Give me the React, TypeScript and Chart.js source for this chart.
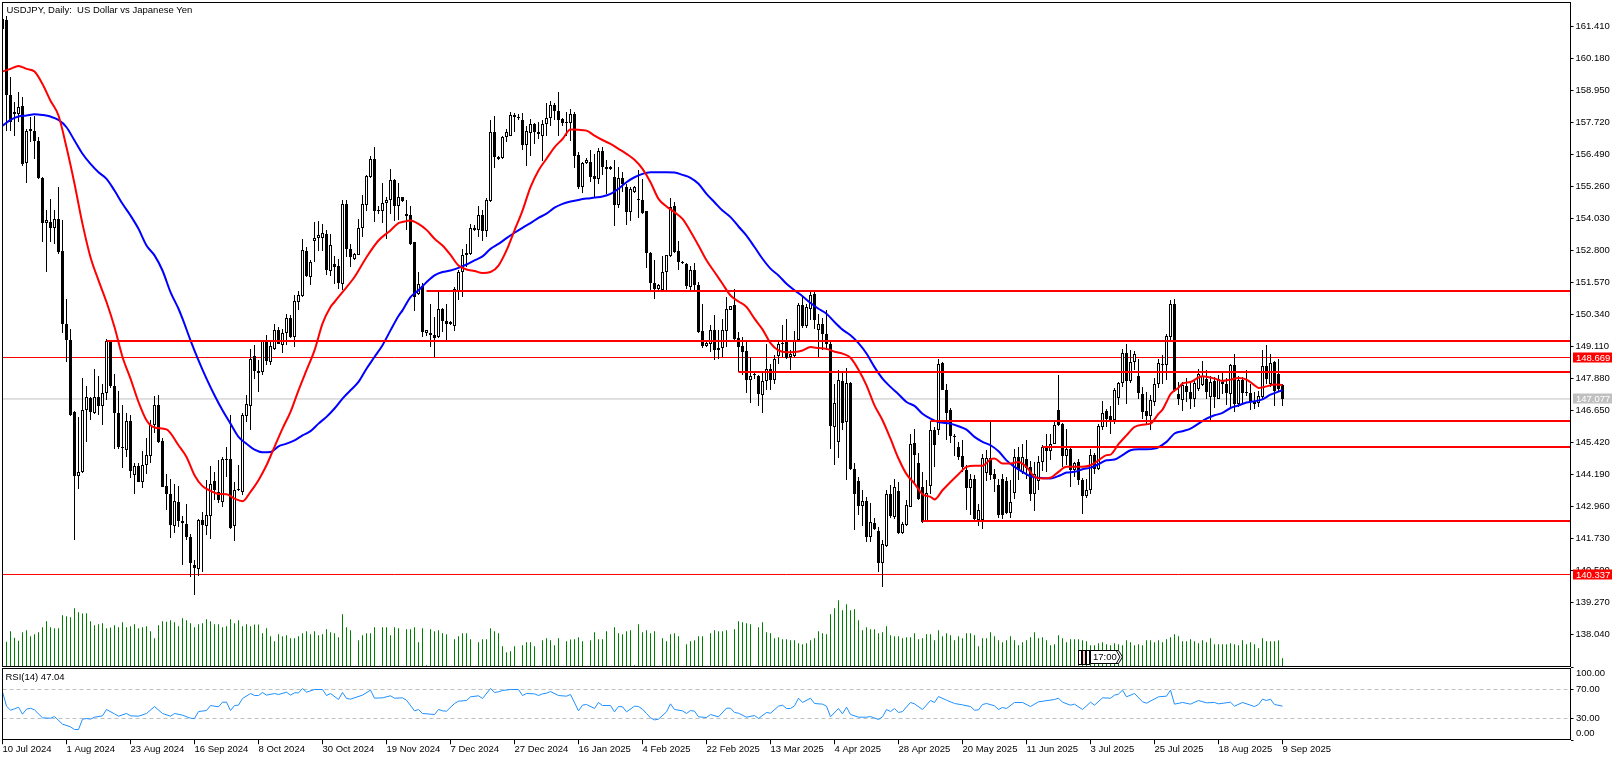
import React, { useEffect, useRef } from "react";
import { Chart, registerables } from "chart.js";

Chart.register(...registerables);

const opens = [
161.67,161.64,158.75,158.00,158.00,158.34,156.13,157.36,157.38,157.00,
155.57,153.83,153.89,153.65,153.99,152.75,149.94,149.33,146.58,144.12,
144.28,146.67,147.13,146.54,147.15,146.81,147.32,149.29,147.56,146.55,
145.22,145.13,146.25,144.16,144.52,143.89,144.56,144.89,146.09,146.86,
145.45,143.73,143.42,142.20,143.11,142.39,142.27,141.76,140.72,140.56,
142.42,142.20,142.59,143.92,143.51,143.13,144.79,144.76,142.20,143.57,
143.51,146.43,146.81,148.71,148.09,148.11,149.26,148.50,149.00,149.71,
149.16,149.62,150.20,149.46,150.80,151.02,152.75,151.76,153.16,153.27,
153.27,153.42,151.99,152.24,152.17,151.50,154.57,152.84,152.47,152.61,
153.65,154.54,155.59,156.30,154.31,154.29,154.61,154.70,155.50,154.48,
154.83,154.11,154.15,153.09,151.09,151.41,149.61,149.62,149.54,149.46,
150.54,150.07,149.94,149.88,151.22,151.95,152.61,152.64,153.58,153.55,
154.15,153.52,154.66,157.34,156.38,156.32,157.13,157.19,157.98,157.88,
157.77,156.81,157.28,157.64,157.34,157.17,157.64,157.86,158.37,158.15,
157.83,157.73,157.66,158.00,156.46,155.21,156.14,156.19,155.62,155.52,
156.58,156.00,155.89,155.59,154.54,155.55,155.21,154.25,155.04,154.76,
154.72,154.28,152.69,151.54,151.30,151.25,151.95,152.56,154.47,152.74,
152.31,152.24,151.37,152.04,151.47,149.67,149.12,149.17,149.74,148.97,
149.05,149.68,150.50,150.67,149.43,149.10,148.90,147.79,147.99,147.95,
147.22,147.77,148.24,147.79,148.71,149.17,149.26,148.69,148.71,149.33,
150.67,149.86,150.54,151.09,149.71,149.94,149.58,149.20,146.00,145.43,
147.77,146.20,147.70,144.40,143.92,142.97,143.15,141.78,142.33,142.00,
140.79,141.43,143.44,142.55,143.55,141.94,142.23,142.93,145.39,144.63,
143.70,142.40,143.73,145.90,145.87,148.47,147.43,146.64,145.66,145.24,
144.88,144.34,143.64,144.02,142.42,142.42,144.25,144.81,144.19,143.79,
144.02,143.92,142.70,143.47,144.83,144.28,144.79,144.47,143.42,143.93,
144.66,145.24,145.07,145.36,146.67,146.10,144.88,145.15,144.34,144.66,
143.98,143.34,143.57,144.92,144.38,146.00,146.60,146.42,146.26,147.13,
147.70,148.85,147.75,148.50,147.95,147.28,146.60,146.42,146.96,147.66,
148.43,148.39,149.46,150.73,147.26,147.05,147.56,147.35,147.09,147.47,
147.60,147.86,147.15,147.75,147.09,147.73,147.66,147.28,148.37,146.90,
147.79,147.30,147.32,146.99,146.92,147.15,148.36,147.67,148.50,148.05,
147.60];

const closes = [
161.28,158.73,157.70,158.09,158.30,156.10,157.38,157.45,156.97,155.55,
153.83,153.93,153.65,153.99,152.72,149.97,149.35,146.45,144.12,144.29,
146.67,147.15,146.58,147.15,146.81,147.32,149.29,147.56,146.54,145.22,
145.20,146.25,144.32,144.52,143.89,144.56,144.94,146.09,146.86,145.43,
143.70,143.42,142.23,143.14,142.40,142.33,141.78,140.79,140.58,142.42,
142.23,142.61,143.83,143.57,143.19,144.76,144.74,142.12,143.60,143.60,
146.45,146.90,148.63,148.15,148.16,149.33,148.52,149.10,149.74,149.20,
149.62,150.20,149.46,150.82,151.08,152.78,151.78,152.33,153.27,153.36,
153.44,152.01,152.97,152.14,151.53,154.57,152.84,152.52,152.63,153.65,
154.57,155.62,156.30,154.29,154.29,154.61,154.70,155.49,154.48,154.83,
154.67,154.16,153.04,150.99,151.48,149.65,149.71,149.52,149.43,150.54,
150.07,149.97,150.03,151.31,151.95,152.61,152.67,153.65,153.65,154.15,
153.52,154.70,157.34,156.36,156.30,157.15,157.34,157.98,157.89,157.92,
156.81,157.38,157.64,157.32,157.25,157.64,157.87,158.37,158.15,157.80,
157.66,157.66,158.00,156.42,155.21,156.14,156.26,155.59,155.52,156.58,
155.98,155.90,155.99,154.54,155.55,155.34,154.25,155.12,155.20,154.73,
154.21,152.68,151.53,151.30,151.44,151.97,152.59,154.44,152.72,152.33,
152.29,151.40,152.04,151.47,149.65,149.10,149.24,149.74,148.97,149.05,
149.71,150.52,150.63,149.39,149.07,148.88,147.79,147.96,148.00,147.28,
147.77,148.24,147.79,148.62,149.20,149.22,148.66,148.79,149.33,150.70,
149.86,150.60,151.05,150.12,149.97,149.58,149.20,146.04,146.94,147.82,
146.17,147.70,144.38,143.44,142.97,143.15,141.78,142.36,142.10,140.76,
141.49,143.44,142.58,143.68,141.94,142.26,143.00,145.34,144.92,143.25,
142.36,143.47,145.90,145.30,148.43,147.43,146.55,145.66,145.63,144.85,
144.47,143.66,143.99,142.45,142.83,144.81,144.81,144.15,144.00,142.61,
142.64,142.68,143.13,144.85,144.34,144.83,144.44,143.44,144.21,144.66,
145.24,145.07,145.36,146.07,146.07,144.88,145.17,144.34,144.62,143.98,
143.34,143.57,144.92,144.40,146.03,146.55,146.30,146.26,147.41,147.70,
148.85,147.75,148.50,148.82,147.31,146.58,146.42,147.03,147.66,148.47,
148.37,149.48,150.73,147.41,147.06,147.60,147.33,147.06,147.70,148.05,
147.95,147.35,147.73,147.15,147.86,147.66,147.31,148.37,146.90,147.79,
147.31,147.32,146.99,146.90,147.18,148.36,147.86,148.47,147.38,147.45,
147.077];

const highs = [
161.79,161.79,159.45,158.47,158.88,158.66,157.45,157.89,157.96,157.13,
155.59,154.34,154.76,154.34,155.23,153.93,150.90,149.77,146.60,146.39,
147.90,147.56,147.15,148.24,147.95,147.67,149.39,149.33,148.05,147.37,
146.86,146.55,146.48,144.63,144.60,145.07,145.56,146.26,147.18,147.22,
145.56,144.21,144.02,143.83,143.73,142.58,143.06,141.89,140.91,142.46,
142.73,143.96,144.49,144.28,144.72,144.85,145.24,146.48,143.89,144.53,
146.54,147.24,149.01,149.14,148.56,149.35,149.55,149.26,149.97,149.84,
149.78,150.33,150.29,151.05,151.22,153.20,152.91,152.40,153.89,153.91,
153.78,153.57,153.42,152.55,152.46,154.70,154.72,153.03,152.68,153.97,
154.91,155.69,156.42,156.77,154.50,155.36,154.83,155.89,155.53,155.36,
154.85,154.72,154.50,153.11,151.97,151.54,149.74,150.73,150.22,151.18,
150.58,150.71,150.07,151.37,152.04,152.84,153.03,153.80,153.74,154.50,
154.34,154.80,157.79,157.94,156.42,157.19,157.45,158.09,158.05,158.02,
158.06,157.54,157.83,157.66,157.70,157.79,158.44,158.51,158.44,158.88,
157.86,158.09,158.21,158.09,156.55,156.19,156.33,156.62,156.49,156.72,
156.74,156.26,156.04,156.26,155.98,155.78,155.34,155.21,155.26,155.87,
155.53,154.30,152.71,152.42,151.50,152.55,152.61,154.80,154.63,153.14,
152.37,152.29,152.20,152.29,151.56,150.73,149.26,149.90,150.31,149.71,
150.16,150.99,150.66,151.31,149.65,149.46,149.33,148.69,148.11,147.98,
148.11,149.20,148.41,148.75,149.35,149.93,150.16,148.94,149.67,150.77,
150.99,150.73,151.18,151.18,150.35,150.18,150.50,149.26,147.66,148.18,
148.11,148.28,147.73,144.62,144.08,143.60,143.32,143.10,142.49,142.17,
141.66,143.57,143.77,144.02,143.90,142.36,143.19,145.75,145.94,145.00,
144.28,143.96,146.25,146.00,148.62,148.50,147.67,146.74,145.75,145.43,
145.49,144.53,144.21,144.15,143.06,144.98,145.10,146.28,144.40,144.02,
144.19,144.08,143.96,145.17,145.24,145.36,145.49,144.70,144.66,144.88,
145.30,145.75,145.75,146.23,148.00,146.16,145.94,145.24,144.66,144.79,
144.06,144.02,145.17,145.00,146.13,147.00,146.71,146.80,147.51,147.73,
149.00,149.20,148.94,148.91,148.62,147.54,147.35,147.22,147.90,148.62,
148.75,149.56,150.86,150.93,147.73,147.73,147.90,147.73,147.77,148.24,
148.54,148.18,147.95,147.92,147.98,148.09,147.88,148.43,148.79,147.95,
147.92,148.20,147.67,147.35,147.38,148.94,149.14,148.79,148.54,148.60,
147.67];

const lows = [
161.22,157.38,157.36,157.19,157.70,156.04,155.36,156.93,156.30,155.53,
153.10,151.95,153.10,153.03,152.65,149.61,148.50,146.41,141.66,143.61,
144.24,145.43,146.26,146.49,146.45,146.07,147.05,147.51,145.17,145.17,
144.43,144.85,144.05,143.42,143.89,143.66,144.21,144.63,145.77,145.39,
143.68,142.81,141.75,141.94,142.17,140.70,141.68,140.25,139.55,140.28,
140.44,141.85,141.71,143.19,143.09,142.91,144.09,142.07,141.63,143.55,
143.38,146.20,145.88,147.86,147.35,147.99,148.37,148.39,148.97,149.17,
148.85,149.14,149.43,149.07,150.48,150.99,151.76,151.44,152.33,152.75,
152.75,151.82,151.80,151.50,151.31,151.25,152.52,152.14,152.42,152.59,
153.29,154.31,155.57,153.87,154.16,153.84,153.23,154.19,153.90,153.93,
154.65,153.55,153.00,150.45,151.05,149.46,149.49,149.07,148.69,149.42,
149.65,149.33,149.90,149.68,150.86,150.99,152.14,152.61,153.52,153.29,
153.14,153.29,154.63,155.94,156.27,156.30,156.93,157.17,157.34,157.77,
156.65,156.01,156.42,156.85,157.06,156.23,157.19,157.57,157.77,157.19,
157.57,157.17,157.00,155.94,155.12,154.98,156.10,155.40,154.83,155.34,
155.68,154.93,155.85,153.70,154.42,155.02,153.77,153.90,155.00,154.02,
154.19,152.10,151.22,150.90,151.25,151.22,151.25,152.52,152.68,152.01,
152.24,151.31,151.25,151.25,149.62,149.05,149.07,148.88,148.59,148.62,
148.69,149.07,150.48,149.35,148.11,147.98,147.31,146.92,147.86,146.79,
146.54,147.43,147.41,147.64,148.43,148.69,148.60,148.18,148.69,149.30,
149.81,149.81,150.09,149.78,148.69,148.94,148.94,145.17,144.53,144.81,
145.87,143.98,144.34,142.06,142.61,142.19,141.59,141.59,142.06,140.44,
139.87,141.40,142.49,142.46,141.91,141.91,142.19,142.91,143.83,143.19,
142.33,142.36,143.42,144.47,145.68,147.41,145.49,145.39,144.88,144.75,
144.28,142.81,142.64,142.40,142.19,142.10,143.93,143.96,143.51,142.49,
142.45,142.65,142.49,143.25,143.96,144.19,144.02,143.16,142.78,143.57,
144.30,144.28,144.72,145.34,146.04,144.47,144.53,143.70,144.09,143.77,
142.65,143.29,143.44,144.19,144.34,145.87,146.00,145.72,146.13,146.86,
147.54,146.90,147.70,148.18,147.09,146.30,146.10,145.87,146.81,147.51,
147.67,147.79,149.30,147.35,146.83,146.62,146.96,146.68,146.75,147.38,
147.58,147.09,146.23,146.73,147.06,147.28,146.86,146.77,146.58,146.75,
146.92,147.18,146.64,146.70,146.77,147.09,147.67,147.54,146.81,147.38,
146.81];

const volumes = [
70,74,106,86,77,103,109,91,97,103,
118,136,118,115,115,154,151,148,175,163,
159,160,136,124,127,130,115,117,124,118,
133,118,121,127,115,118,121,106,85,124,
136,134,139,133,121,145,139,130,118,127,
130,142,136,127,127,118,121,142,130,139,
121,127,121,126,126,100,115,91,76,97,
91,94,85,85,91,100,106,97,106,94,
97,112,103,100,88,157,118,109,0,79,
94,100,100,118,0,118,118,94,118,115,
0,112,112,118,73,115,4,112,106,109,
100,97,0,82,91,100,100,82,0,73,
82,82,115,106,100,61,43,46,61,0,
64,73,73,61,0,79,85,79,64,85,
0,76,81,82,88,76,0,79,103,82,
82,106,0,118,100,97,106,109,4,127,
103,109,100,106,0,85,76,97,100,91,
0,67,76,79,91,91,0,100,109,106,
106,109,0,112,136,133,130,127,0,118,
133,103,100,85,88,82,82,79,79,70,
67,70,79,85,106,100,97,157,175,199,
169,187,169,172,139,109,118,112,112,100,
103,121,94,91,91,85,88,88,100,82,
85,97,97,79,109,91,100,94,79,91,
85,100,100,94,61,85,85,103,91,79,
73,79,91,79,64,73,79,88,103,85,
88,79,64,67,94,85,73,82,82,82,
79,76,64,64,70,73,67,64,70,67,
64,79,73,64,67,64,79,79,73,79,
73,82,88,97,91,76,76,82,76,70,
79,73,85,67,67,67,67,70,67,64,
79,67,73,67,55,85,76,76,76,79,
25];

const redBars = [0,2,4,6,8,10,12,14,16,18,20,22,24,26,28,30,32,34,36,38,41,44,46,48,50,52,54,56,58,60,62,64,66,68,70,72,74,76,78,80,82,83,85,88,91,94,97,99,100,102,104,106,108,110,112,114,116,118,120,122,124,126,128,130,132,134,136,138,140,142,144,146,148,150,152,154,156,158,160,162,164,166,168,170,172,174,176,178,180,182,184,186,188,190,192,194,196,198,200,202,204,206,208,210,212,214,216,218,220,222,224,226,228,230,232,233,235,237,239,241,243,245,247,248,250,252,254,256,258,260,262,264,266,268,270,272,274,276,277,279,281,283,285,287,289,290,291,292,294,295,297,299,300,303,305,307,309,311,313,314,316,318,320];
const redValues = [159.65,159.75,159.86,159.75,159.65,159.17,158.53,157.96,156.74,155.34,153.80,152.52,151.63,150.80,149.84,148.69,147.86,146.96,146.26,145.98,145.91,145.30,144.85,144.15,143.73,143.55,143.43,143.42,143.25,143.15,143.51,143.96,144.53,145.24,145.94,146.58,147.41,148.18,148.94,149.97,150.61,150.80,151.18,151.76,152.52,153.16,153.55,153.83,153.87,153.93,153.80,153.57,153.23,152.97,152.61,152.20,152.05,151.99,151.91,151.95,152.20,152.78,153.55,154.31,155.21,155.85,156.30,156.74,157.06,157.42,157.41,157.38,157.19,157.02,156.87,156.68,156.49,156.26,155.91,155.40,154.76,154.47,154.25,153.99,153.51,152.97,152.40,151.95,151.50,151.05,150.82,150.61,150.16,149.75,149.22,148.94,148.87,148.88,148.94,149.07,149.03,149.00,148.89,148.82,148.66,148.20,147.60,146.83,146.26,145.55,144.79,144.19,143.83,143.42,143.32,143.22,143.57,143.89,144.19,144.47,144.51,144.51,144.76,144.79,144.60,144.60,144.66,144.47,144.09,144.02,144.05,144.28,144.47,144.47,144.47,144.53,144.72,144.92,144.94,145.34,145.68,146.00,146.09,146.13,146.51,146.67,146.96,147.26,147.51,147.67,147.73,147.90,147.95,147.86,147.77,147.82,147.88,147.82,147.60,147.50,147.56,147.63,147.61];

const blueBars = [0,2,4,6,8,10,12,14,16,18,20,22,24,26,28,30,32,34,36,38,40,42,44,45,47,49,51,53,55,57,59,61,63,65,67,69,71,73,75,77,79,81,83,85,87,89,91,93,95,97,99,100,102,104,106,108,110,112,114,116,118,120,122,124,126,128,130,132,134,136,138,140,142,144,146,148,150,152,154,156,158,160,162,164,166,168,170,172,174,176,178,180,182,184,186,188,190,192,194,196,198,200,202,204,206,208,210,212,214,216,218,220,222,224,226,228,230,232,234,237,239,241,243,245,247,249,251,253,255,257,259,262,264,266,268,270,272,274,276,278,280,282,284,286,288,291,293,295,297,299,301,303,305,307,309,311,313,315,317,320];
const blueValues = [157.57,157.79,157.92,157.96,158.01,157.98,157.92,157.79,157.51,157.00,156.49,156.10,155.78,155.53,155.08,154.57,154.12,153.61,152.97,152.59,152.01,151.18,150.54,150.16,149.33,148.56,147.86,147.22,146.64,146.13,145.62,145.36,145.13,145.03,145.04,145.26,145.36,145.49,145.68,145.84,146.13,146.39,146.71,147.09,147.41,147.73,148.24,148.69,149.14,149.71,150.26,150.48,150.99,151.25,151.56,151.82,151.95,152.01,152.11,152.24,152.40,152.55,152.84,153.03,153.25,153.46,153.65,153.83,154.03,154.19,154.42,154.57,154.66,154.72,154.77,154.81,154.85,154.95,155.15,155.40,155.59,155.72,155.78,155.78,155.78,155.77,155.68,155.57,155.34,154.95,154.63,154.31,154.06,153.70,153.35,152.91,152.46,152.08,151.82,151.50,151.25,151.02,150.76,150.54,150.35,150.03,149.74,149.52,149.22,148.82,148.30,147.86,147.54,147.26,146.96,146.81,146.51,146.32,146.19,146.13,146.03,145.90,145.62,145.43,145.30,145.07,144.72,144.47,144.28,144.11,144.05,144.02,144.12,144.25,144.28,144.38,144.44,144.57,144.72,144.75,144.92,145.11,145.15,145.15,145.17,145.43,145.75,145.84,145.94,146.13,146.32,146.45,146.54,146.73,146.83,146.94,146.99,147.06,147.24,147.41];

const rsiBars = [0,1,2,3,4,5,6,7,8,10,12,13,15,17,18,19,20,21,22,23,25,26,28,29,31,32,34,36,38,40,42,43,45,47,48,49,51,52,54,55,56,57,58,59,60,62,63,64,65,66,68,69,71,72,73,74,75,76,78,80,81,82,84,85,86,87,90,92,93,95,97,98,100,101,103,104,105,108,109,110,111,113,114,116,117,119,120,122,123,124,125,127,129,130,131,133,134,135,136,137,139,141,142,144,145,146,148,149,150,152,153,154,155,156,158,159,160,161,162,163,164,166,167,168,170,171,172,173,174,176,177,179,181,182,183,184,186,188,189,191,192,194,195,196,197,198,199,200,202,203,205,206,207,209,210,211,212,214,216,217,219,220,221,222,223,224,225,227,228,230,232,233,234,236,238,240,242,243,244,245,246,248,249,250,251,253,255,257,259,263,264,265,267,268,270,272,273,275,277,278,279,280,281,283,285,286,289,291,292,293,295,297,299,301,303,304,307,308,310,313,314,315,316,317,318,320];
const rsiValues = [66.8,47.0,41.5,43.3,45.6,36.0,42.9,44.2,41.9,30.9,30.4,32.7,22.2,18.5,14.8,14.8,29.1,30.0,29.1,31.8,33.7,42.4,36.4,33.2,36.9,33.7,33.2,36.9,46.5,36.9,33.2,36.9,34.6,30.4,30.0,39.6,41.0,47.9,46.1,52.5,52.5,41.0,47.9,48.4,57.6,64.5,61.7,61.7,65.9,62.2,64.5,63.1,66.3,62.2,65.4,65.4,71.4,66.3,70.0,70.0,61.7,64.5,56.2,65.9,57.6,56.7,62.2,69.1,58.0,58.5,61.3,58.0,58.5,55.3,40.6,42.4,36.9,35.5,42.4,40.6,40.1,50.7,53.9,54.8,59.9,61.3,57.6,71.4,65.9,66.8,68.6,70.0,70.0,61.7,64.5,64.0,61.7,64.0,64.9,67.2,61.7,60.8,63.1,40.6,48.4,49.3,43.8,52.1,47.9,47.9,39.2,46.5,46.1,39.2,47.0,46.5,42.9,36.9,30.9,28.1,29.1,39.2,50.2,42.4,40.6,36.9,41.0,40.1,32.3,31.4,35.5,32.3,44.2,44.2,38.3,37.3,31.8,34.1,30.0,38.3,37.3,47.0,48.4,43.8,43.8,47.5,58.0,52.1,58.0,50.7,49.8,47.0,32.3,43.8,36.4,45.6,35.5,31.8,31.8,32.7,28.6,32.3,42.4,39.6,43.8,38.3,39.6,52.1,50.2,42.4,54.8,52.1,60.3,55.3,50.7,48.8,46.5,41.5,41.9,49.3,50.7,47.5,42.4,45.2,43.8,52.1,52.1,46.5,53.0,56.2,58.0,52.5,48.4,49.8,42.4,52.5,48.4,58.5,58.0,62.2,63.6,69.1,59.9,64.5,53.0,51.1,59.9,60.8,69.1,49.8,52.1,49.8,54.8,51.6,52.1,50.2,52.5,47.0,52.1,46.5,49.3,56.7,54.8,56.7,49.3,47.04];

const levelPrices = [151.222, 149.303, 148.112, 146.231, 145.232, 142.391];
const levelStartBars = [106, 26, 184, 232, 260, 230];
const thinLevels = [148.669, 140.337];
const bidPrice = 147.077;
const rsiLevels = [70, 30];

const priceTicks = [161.41,160.18,158.95,157.72,156.49,155.26,154.03,152.8,151.57,150.34,149.11,147.88,146.65,145.42,144.19,142.96,141.73,140.5,139.27,138.04];
const rsiTicks = [100, 70, 30, 0];
const tickBars = [0,16,32,48,64,80,96,112,128,144,160,176,192,208,224,240,256,272,288,304,320];
const dateLabels = ["10 Jul 2024","1 Aug 2024","23 Aug 2024","16 Sep 2024","8 Oct 2024","30 Oct 2024","19 Nov 2024","7 Dec 2024","27 Dec 2024","16 Jan 2025","4 Feb 2025","22 Feb 2025","13 Mar 2025","4 Apr 2025","28 Apr 2025","20 May 2025","11 Jun 2025","3 Jul 2025","25 Jul 2025","18 Aug 2025","9 Sep 2025"];

const FAMILY = '"Liberation Sans", Arial, sans-serif';
const FONT_SIZE = 9.5;
const FONT = `${FONT_SIZE}px ${FAMILY}`;
const X_MAX = 392;
const PRICE_MAX = 162.2998;
const PRICE_MIN = 136.8045;
const VOL_MAX = 1992;

function frame(chart: any, topInset = 0, bottomInset = 0) {
  const { ctx, chartArea: a } = chart;
  ctx.save();
  ctx.strokeStyle = "#000";
  ctx.lineWidth = 1;
  ctx.strokeRect(a.left, a.top + topInset, a.right - a.left, a.bottom - a.top - topInset - bottomInset);
  ctx.restore();
}

const mainDecor = {
  id: "mainDecor",
  afterDraw(chart: any) {
    const { ctx } = chart;
    frame(chart);
    ctx.save();
    ctx.font = FONT;
    ctx.textBaseline = "middle";
    ctx.textAlign = "left";
    ctx.fillStyle = "#000";
    ctx.fillText("USDJPY, Daily:  US Dollar vs Japanese Yen", 6.5, 10);

    const tag = (price: number, bg: string) => {
      const y = Math.floor(chart.scales.yRaw.getPixelForValue(price)) + 0.5;
      ctx.fillStyle = bg;
      ctx.fillRect(1573, y - 5, 39, 10);
      ctx.fillStyle = "#fff";
      ctx.textAlign = "left";
      ctx.fillText(price.toFixed(3), 1576, y + 0.5);
    };
    thinLevels.forEach((p) => tag(p, "#ff0000"));
    tag(bidPrice, "#c0c0c0");

    // session marker sitting on the volume pane
    const y0 = 650.5;
    const y1 = 664.5;
    ctx.strokeStyle = "#000";
    ctx.lineWidth = 1;
    [1078.5, 1082.5, 1086.5].forEach((x, k) => {
      ctx.fillStyle = k === 1 ? "#ffc8c8" : "#fff";
      ctx.fillRect(x, y0, 3, y1 - y0);
      ctx.strokeRect(x, y0, 3, y1 - y0);
    });
    ctx.fillStyle = "#fff";
    ctx.beginPath();
    ctx.moveTo(1090.5, 650.5);
    ctx.lineTo(1118.5, 650.5);
    ctx.lineTo(1122.5, 657);
    ctx.lineTo(1118.5, 663.5);
    ctx.lineTo(1090.5, 663.5);
    ctx.closePath();
    ctx.fill();
    ctx.stroke();
    ctx.beginPath();
    ctx.moveTo(1116.5, 651);
    ctx.lineTo(1120, 657);
    ctx.lineTo(1116.5, 663);
    ctx.stroke();
    ctx.fillStyle = "#000";
    ctx.font = `${FONT_SIZE}px ${FAMILY}`;
    ctx.fillText("17:00", 1093, 657.5);
    ctx.restore();
  },
};

const rsiDecor = {
  id: "rsiDecor",
  afterDraw(chart: any) {
    const { ctx } = chart;
    frame(chart, 0.75, 0.75);
    ctx.save();
    ctx.font = FONT;
    ctx.textBaseline = "middle";
    ctx.textAlign = "left";
    ctx.fillStyle = "#000";
    ctx.fillText("RSI(14) 47.04", 5.5, 10.7);
    const nudges = [5.6, 0, 0, -7];
    rsiTicks.forEach((t, k) => {
      const y = chart.scales.y.getPixelForValue(t) + nudges[k];
      ctx.fillText(t.toFixed(2), 1576, y);
    });
    ctx.restore();
  },
};

const hline = (price: number, from: number, color: string, width: number, order: number, axis: string, dash?: number[]) => ({
  type: "line" as const,
  data: [{ x: from, y: price }, { x: X_MAX, y: price }],
  borderColor: color,
  borderWidth: width,
  borderDash: dash || [],
  pointRadius: 0,
  order,
  xAxisID: "x",
  yAxisID: axis,
});

const maLine = (bars: number[], values: number[], color: string, order: number) => ({
  type: "line" as const,
  data: bars.map((b, k) => ({ x: b, y: values[k] })),
  borderColor: color,
  borderWidth: 2,
  pointRadius: 0,
  cubicInterpolationMode: "monotone",
  order,
  xAxisID: "x",
  yAxisID: "yRaw",
});

export default function App() {
  const mainRef = useRef<HTMLCanvasElement | null>(null);
  const rsiRef = useRef<HTMLCanvasElement | null>(null);

  useEffect(() => {
    const bars = closes.map((_, i) => i);
    const barCommon = { grouped: false, barPercentage: 1, categoryPercentage: 1, inflateAmount: 0, borderSkipped: false as const };

    const main = new Chart(mainRef.current as HTMLCanvasElement, {
      type: "bar",
      data: {
        datasets: [
          {
            type: "bar",
            data: bars.map((i) => ({ x: i, y: volumes[i] })),
            backgroundColor: "#008000",
            maxBarThickness: 1,
            order: 20,
            xAxisID: "x",
            yAxisID: "vol",
            ...barCommon,
          },
          hline(bidPrice, 0, "#c0c0c0", 1, 19, "yRaw"),
          ...thinLevels.map((p) => hline(p, 0, "#ff0000", 1, 18, "yRaw")),
          {
            type: "bar",
            data: bars.map((i) => ({ x: i, y: [lows[i], highs[i]] })),
            backgroundColor: "#000",
            maxBarThickness: 1,
            order: 12,
            xAxisID: "x",
            yAxisID: "y",
            ...barCommon,
          },
          {
            type: "bar",
            data: bars.map((i) => ({ x: i, y: [opens[i], closes[i]] })),
            backgroundColor: bars.map((i) => (closes[i] >= opens[i] ? "#fff" : "#000")),
            borderColor: "#000",
            borderWidth: 1,
            maxBarThickness: 3,
            minBarLength: 1,
            order: 11,
            xAxisID: "x",
            yAxisID: "y",
            ...barCommon,
          },
          maLine(blueBars, blueValues, "#0000ff", 6),
          maLine(redBars, redValues, "#ff0000", 5),
          ...levelPrices.map((p, k) => hline(p, levelStartBars[k], "#ff0000", 2, 4, "y")),
        ] as any,
      },
      options: {
        responsive: false,
        animation: false,
        devicePixelRatio: 1,
        layout: { padding: { left: 2.5, top: 2.5, right: 0, bottom: 1.5 } },
        plugins: { legend: { display: false }, tooltip: { enabled: false } },
        events: [],
        scales: {
          x: { type: "linear", min: 0, max: X_MAX, offset: false, display: false, grid: { display: false } },
          y: {
            type: "linear",
            position: "right",
            min: PRICE_MIN,
            max: PRICE_MAX,
            alignToPixels: true,
            afterBuildTicks: (s: any) => {
              s.ticks = priceTicks.map((value) => ({ value }));
            },
            afterFit: (s: any) => {
              s.width = 52.5;
              s.paddingTop = 0;
              s.paddingBottom = 0;
            },
            ticks: {
              color: "#000",
              padding: 2,
              autoSkip: false,
              font: { family: FAMILY, size: FONT_SIZE },
              callback: (v: any) => Number(v).toFixed(3),
            },
            grid: { drawOnChartArea: false, drawTicks: true, tickLength: 3, color: "#000" },
            border: { color: "#000" },
          },
          yRaw: { type: "linear", display: false, min: PRICE_MIN, max: PRICE_MAX, grid: { display: false } },
          vol: { type: "linear", display: false, min: 0, max: VOL_MAX, grid: { display: false } },
        },
      } as any,
      plugins: [mainDecor],
    });

    const rsi = new Chart(rsiRef.current as HTMLCanvasElement, {
      type: "line",
      data: {
        datasets: [
          ...rsiLevels.map((l) => hline(l, 0, "#c0c0c0", 1, 5, "y", [4, 3])),
          {
            type: "line",
            data: rsiBars.map((b, k) => ({ x: b, y: rsiValues[k] })),
            borderColor: "#1e90ff",
            borderWidth: 1,
            pointRadius: 0,
            tension: 0,
            order: 1,
            xAxisID: "x",
            yAxisID: "y",
          },
        ] as any,
      },
      options: {
        responsive: false,
        animation: false,
        devicePixelRatio: 1,
        layout: { padding: { left: 2.5, top: 0.75, right: 0, bottom: 0 } },
        plugins: { legend: { display: false }, tooltip: { enabled: false } },
        events: [],
        scales: {
          x: {
            type: "linear",
            min: 0,
            max: X_MAX,
            offset: false,
            afterBuildTicks: (s: any) => {
              s.ticks = tickBars.map((value) => ({ value }));
            },
            afterFit: (s: any) => {
              s.height = 19.75;
              s.paddingLeft = 0;
              s.paddingRight = 0;
            },
            ticks: {
              color: "#000",
              align: "start",
              padding: -1,
              autoSkip: false,
              maxRotation: 0,
              minRotation: 0,
              font: { family: FAMILY, size: FONT_SIZE },
              callback: (v: any) => dateLabels[tickBars.indexOf(Number(v))],
            },
            grid: { drawOnChartArea: false, drawTicks: true, tickLength: 4, color: "#000" },
            border: { display: false },
          },
          y: {
            type: "linear",
            position: "right",
            min: 0,
            max: 100,
            afterBuildTicks: (s: any) => {
              s.ticks = rsiTicks.map((value) => ({ value }));
            },
            afterFit: (s: any) => {
              s.width = 52.5;
              s.paddingTop = 0;
              s.paddingBottom = 0;
            },
            ticks: { display: false },
            grid: { drawOnChartArea: false, drawTicks: true, tickLength: 3, color: "#000" },
            border: { display: false },
          },
        },
      } as any,
      plugins: [rsiDecor],
    });

    return () => {
      main.destroy();
      rsi.destroy();
    };
  }, []);

  return (
    <div style={{ position: "absolute", left: 0, top: 0, width: 1623, height: 760, background: "#fff" }}>
      <canvas ref={mainRef} width={1623} height={668} style={{ position: "absolute", left: 0, top: 0, width: 1623, height: 668 }} />
      <canvas ref={rsiRef} width={1623} height={93} style={{ position: "absolute", left: 0, top: 667, width: 1623, height: 93 }} />
    </div>
  );
}
